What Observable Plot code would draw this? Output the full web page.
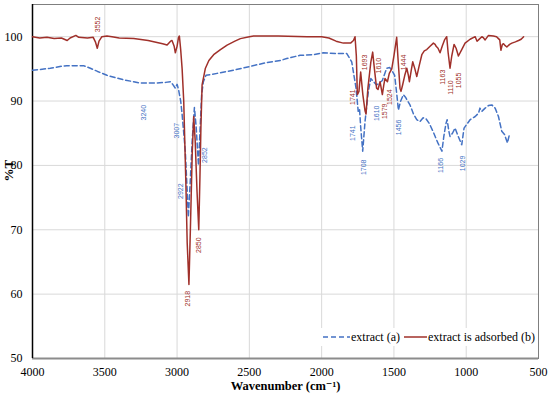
<!DOCTYPE html>
<html>
<head>
<meta charset="utf-8">
<script src="https://cdn.jsdelivr.net/npm/d3@7"></script>
<script src="https://cdn.jsdelivr.net/npm/@observablehq/plot@0.6"></script>
<style>
  html, body { margin: 0; padding: 0; background: white; }
</style>
</head>
<body>
<div id="chart"></div>
<script>
// ---- Data ----
const xTicks = [4000, 3500, 3000, 2500, 2000, 1500, 1000, 500];
const yTicks = [50, 60, 70, 80, 90, 100];

const seriesNames = ["extract (a)", "extract is adsorbed (b)"];

// extract (a) – blue dashed
const waveA = [4000,3950,3877,3800,3762,3700,3647,3600,3550,3485,3420,3370,3300,3254,3200,3139,3080,3046,3030,3012,3000,2990,2975,2965,2943,2930,2922,2910,2895,2880,2868,2852,2840,2830,2818,2800,2723,2608,2492,2377,2285,2242,2150,2058,1989,1900,1827,1792,1762,1747,1738,1730,1716,1700,1677,1660,1640,1620,1600,1580,1550,1530,1515,1495,1480,1469,1455,1435,1420,1405,1389,1365,1342,1320,1298,1280,1255,1230,1196,1168,1155,1140,1132,1120,1112,1095,1077,1055,1031,1015,973,938,915,905,892,869,846,823,800,777,754,735,715,701];
const pctA  = [94.8,94.9,95.1,95.4,95.5,95.5,95.5,95.1,94.6,94.0,93.6,93.3,93.0,92.8,92.8,92.8,92.9,93.0,92.6,92.0,92.6,91.8,90.0,87.9,82.2,76.0,72.0,77.0,84.0,89.0,86.0,80.0,86.0,91.0,93.0,94.0,94.3,94.8,95.4,96.0,96.3,96.6,97.1,97.2,97.5,97.4,97.4,96.1,92.0,88.4,88.8,86.0,82.2,86.8,91.5,93.5,93.0,92.5,92.8,93.2,95.1,95.2,94.8,94.0,91.0,88.6,89.9,91.0,90.6,90.0,89.4,88.0,87.1,86.8,87.4,87.3,86.5,85.3,83.5,82.2,84.5,86.5,87.1,85.3,84.5,85.0,85.8,84.5,83.2,85.8,87.1,87.6,88.1,88.9,88.4,88.9,89.3,89.4,88.9,87.6,85.3,84.8,83.5,84.8];

// extract is adsorbed (b) – red solid
const waveB = [4000,3950,3900,3850,3800,3760,3740,3700,3680,3620,3580,3565,3552,3540,3520,3485,3450,3400,3300,3200,3100,3069,3045,3035,3020,3012,3000,2990,2984,2975,2965,2954,2940,2930,2918,2908,2895,2885,2875,2862,2850,2842,2835,2827,2804,2780,2747,2700,2654,2600,2562,2500,2471,2300,2100,2000,1950,1900,1850,1800,1780,1769,1760,1753,1742,1730,1715,1700,1693,1680,1660,1647,1635,1620,1610,1596,1580,1570,1562,1545,1532,1515,1500,1481,1470,1458,1451,1440,1425,1411,1400,1393,1380,1370,1355,1342,1325,1307,1290,1273,1250,1227,1215,1208,1195,1181,1165,1150,1135,1125,1112,1100,1084,1070,1054,1031,1008,973,938,925,915,892,880,869,846,812,790,777,768,760,750,742,730,719,700,684,660,638,620,603];
const pctB  = [100.0,99.8,99.9,99.7,99.8,99.4,99.8,100.2,99.9,99.8,99.9,99.2,98.2,99.3,100.0,100.1,100.0,99.8,99.7,99.4,98.9,98.7,99.3,99.4,98.5,97.5,98.5,99.9,100.1,98.0,95.0,90.0,78.0,68.0,61.5,70.0,82.0,87.6,84.0,76.0,70.0,78.0,86.0,92.5,95.1,96.3,97.2,98.0,98.7,99.3,99.7,100.0,100.1,100.1,100.0,100.0,99.8,99.3,99.0,99.0,99.4,100.0,97.0,91.0,91.5,94.5,91.0,88.5,88.0,92.0,96.0,97.6,95.0,92.0,91.8,93.0,91.0,92.5,93.5,93.0,94.3,95.0,97.0,99.9,96.0,92.0,91.5,92.5,94.0,95.1,94.0,93.0,94.8,96.1,95.0,93.8,95.5,97.2,97.8,98.0,98.5,99.0,98.8,98.5,98.2,97.5,98.6,99.5,100.0,97.5,95.1,97.0,98.8,98.2,97.0,98.0,99.0,99.6,100.0,99.3,99.5,100.0,99.8,99.5,100.2,100.1,100.0,99.7,99.5,97.9,98.8,98.9,98.6,98.4,98.8,99.0,99.2,99.4,99.6,100.0];

// peak annotations (text, wavenumber anchor, %T anchor)
const peakLabelsA = ["3240","3007","2922","2852","1741","1708","1610","1456","1166","1029"];
const peakWaveA   = [3231, 3000, 2977, 2811, 1788, 1708, 1620, 1465, 1177, 1026];
const peakPctA    = [88.2, 85.4, 76.0, 81.6, 85.0, 79.7, 88.1, 85.9, 80.0, 80.3];

const peakLabelsB = ["3552","2918","2850","1741","1693","1610","1579","1524","1444","1163","1110","1055"];
const peakWaveB   = [3552, 2925, 2850, 1788, 1703, 1608, 1565, 1528, 1435, 1165, 1107, 1050];
const peakPctB    = [101.9, 59.3, 67.6, 90.6, 96.0, 95.5, 88.4, 90.6, 96.0, 93.7, 92.1, 93.2];

// ---- Tables ----
const tableA = waveA.map((w, i) => ({w, t: pctA[i]}));
const tableB = waveB.map((w, i) => ({w, t: pctB[i]}));
const labA = peakLabelsA.map((s, i) => ({s, w: peakWaveA[i], t: peakPctA[i]}));
const labB = peakLabelsB.map((s, i) => ({s, w: peakWaveB[i], t: peakPctB[i]}));

const blue = "#4472c4";
const red = "#a0302a";
const serif = "Liberation Serif, DejaVu Serif, serif";
const sans = "Liberation Sans, DejaVu Sans, sans-serif";

const chart = Plot.plot({
  width: 550,
  height: 398,
  marginLeft: 32,
  marginRight: 12,
  marginTop: 4,
  marginBottom: 40,
  style: {fontFamily: serif, fontSize: "12px", background: "white", color: "black"},
  x: {domain: [4000, 500], ticks: xTicks},
  y: {domain: [50, 105], ticks: yTicks},
  marks: [
    Plot.ruleX(xTicks, {stroke: "#d9d9d9", strokeWidth: 1}),
    Plot.ruleY(yTicks, {stroke: "#d9d9d9", strokeWidth: 1}),
    Plot.frame({stroke: "#7f7f7f"}),
    Plot.axisX({ticks: xTicks, tickSize: 0, tickPadding: 9, label: null, fontSize: 12, fontFamily: serif, tickFormat: d => String(d)}),
    Plot.axisY({ticks: yTicks, tickSize: 0, tickPadding: 10, label: null, fontSize: 12, fontFamily: serif, tickFormat: d => String(d)}),
    Plot.ruleY([50], {stroke: "#8c8c8c", strokeWidth: 2}),
    Plot.ruleX([4000], {stroke: "black", strokeWidth: 1.5}),
    Plot.line(tableA, {x: "w", y: "t", stroke: blue, strokeWidth: 1.5, strokeDasharray: "5,3"}),
    Plot.line(tableB, {x: "w", y: "t", stroke: red, strokeWidth: 1.5}),
    Plot.text(labA, {x: "w", y: "t", text: "s", rotate: -90, fontSize: 7, fill: blue, fontFamily: sans}),
    Plot.text(labB, {x: "w", y: "t", text: "s", rotate: -90, fontSize: 7, fill: red, fontFamily: sans}),
    Plot.text(["Wavenumber (cm⁻¹)"], {frameAnchor: "bottom", dy: 31, fontWeight: "bold", fontSize: 12.5, fontFamily: serif}),
    Plot.text(["%T"], {frameAnchor: "left", dx: -24, rotate: -90, fontWeight: "bold", fontSize: 13, fontFamily: serif})
  ]
});

// ---- Legend (inside plot, bottom-right) ----
const svg = d3.select(chart);
const g = svg.append("g").attr("font-family", serif).attr("font-size", 12).attr("text-anchor", "start");
g.append("rect").attr("x", 318).attr("y", 328).attr("width", 218).attr("height", 18).attr("fill", "white");
g.append("line").attr("x1", 323).attr("x2", 350).attr("y1", 337).attr("y2", 337)
  .attr("stroke", blue).attr("stroke-width", 1.5).attr("stroke-dasharray", "5,3");
g.append("text").attr("x", 351).attr("y", 337).attr("dy", "0.35em").text(seriesNames[0]);
g.append("line").attr("x1", 404).attr("x2", 427).attr("y1", 337).attr("y2", 337)
  .attr("stroke", red).attr("stroke-width", 1.5);
g.append("text").attr("x", 428).attr("y", 337).attr("dy", "0.35em").text(seriesNames[1]);

document.getElementById("chart").appendChild(chart);
</script>
</body>
</html>
